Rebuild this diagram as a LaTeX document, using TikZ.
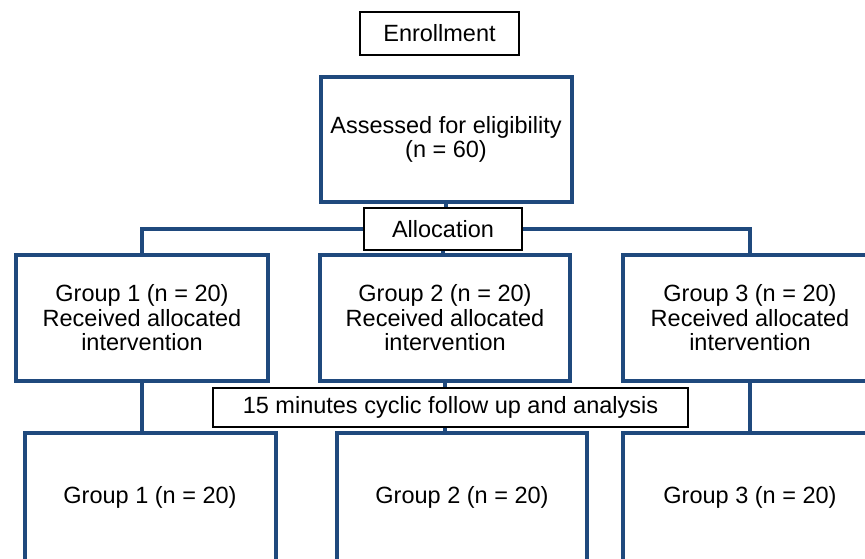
\documentclass[tikz,border=0pt]{standalone}
\usepackage{fontspec}
\setmainfont{Liberation Sans}
\definecolor{boxblue}{RGB}{31,73,125}
\tikzset{
	stagebox/.style={draw=boxblue, line width=4pt, fill=white, align=center, inner sep=0pt},
	labelbox/.style={draw=black, line width=1.8pt, fill=white, align=center, inner sep=0pt},
	link/.style={draw=boxblue, line width=4pt},
}
\begin{document}
\begin{tikzpicture}[x=1pt, y=-1pt, font=\fontsize{23.5}{24.5}\selectfont]
	\useasboundingbox (0,0) rectangle (865,558);
	
	\node[labelbox, minimum width=159pt, minimum height=43pt] (enroll) at (439.5,33.5){Enrollment};
	\node[stagebox, minimum width=251pt, minimum height=125pt] (assess) at (446,139.5){Assessed for eligibility\\(n = 60)};
	\node[labelbox, minimum width=158pt, minimum height=42pt] (alloc) at (443,229){Allocation};
	
	\node[stagebox, minimum width=252pt, minimum height=126pt] (g1) at (142,318){Group 1 (n = 20)\\Received allocated\\intervention};
	\node[stagebox, minimum width=250pt, minimum height=126pt] (g2) at (445,318){Group 2 (n = 20)\\Received allocated\\intervention};
	\node[stagebox, minimum width=254pt, minimum height=126pt] (g3) at (750,318){Group 3 (n = 20)\\Received allocated\\intervention};
	
	\node[stagebox, minimum width=251pt, minimum height=128pt] (f1) at (150,497){Group 1 (n = 20)};
	\node[stagebox, minimum width=250pt, minimum height=128pt] (f2) at (462,497){Group 2 (n = 20)};
	\node[stagebox, minimum width=254pt, minimum height=128pt] (f3) at (750,497){Group 3 (n = 20)};
	
	% allocation links
	\draw[link] (assess.south) -- (assess.south |- alloc.north);
	\draw[link] (alloc.west) -| (g1.north);
	\draw[link] (alloc.east) -| (g3.north);
	\draw[link] (alloc.south) -- (alloc.south |- g2.north);
	
	% follow up links
	\draw[link] (g1.south) -- (g1.south |- f1.north);
	\draw[link] (g2.south) -- (g2.south |- f2.north);
	\draw[link] (g3.south) -- (g3.south |- f3.north);
	
	\node[labelbox, minimum width=475pt, minimum height=39pt] (follow) at (450.5,407.5){15 minutes cyclic follow up and analysis};
\end{tikzpicture}
\end{document}
